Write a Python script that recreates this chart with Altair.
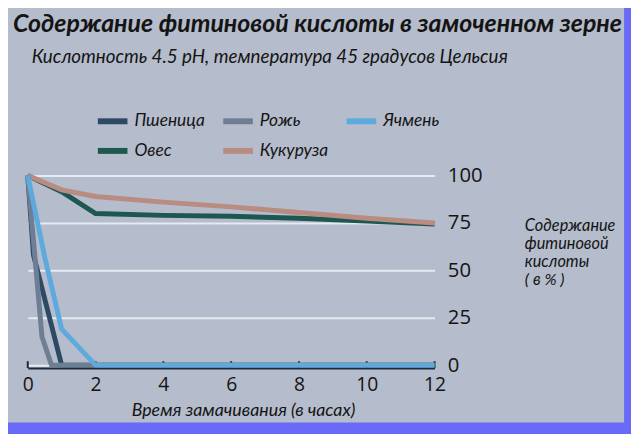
import altair as alt
import pandas as pd

# ---- texts ----
title_text = "Содержание фитиновой кислоты в замоченном зерне"
subtitle_text = "Кислотность 4.5 pH, температура 45 градусов Цельсия"
x_title = "Время замачивания (в часах)"
y_title = ["Содержание", "фитиновой", "кислоты", "( в % )"]

# ---- series ----
series_names = ["Пшеница", "Рожь", "Ячмень", "Овес", "Кукуруза"]
series_colors = ["#2d4a64", "#6e7e95", "#5eaadd", "#1e5650", "#b88c80"]

wheat_hours = [0, 0.17, 1, 2, 4, 6, 8, 10, 12]
wheat_vals = [100, 58, 0, 0, 0, 0, 0, 0, 0]

rye_hours = [0, 0.42, 0.7, 2, 4, 6, 8, 10, 12]
rye_vals = [100, 15, 0, 0, 0, 0, 0, 0, 0]

barley_hours = [0, 0.5, 1, 2, 4, 6, 8, 10, 12]
barley_vals = [100, 57, 19, 0, 0, 0, 0, 0, 0]

oats_hours = [0, 1, 2, 4, 6, 8, 10, 12]
oats_vals = [100, 91.5, 80, 79, 78.5, 77.5, 76, 74.5]

corn_hours = [0, 1, 2, 4, 6, 8, 10, 12]
corn_vals = [100, 92.5, 89, 86, 83.5, 80.5, 77.5, 75]

x_ticks = [0, 2, 4, 6, 8, 10, 12]
y_ticks = [0, 25, 50, 75, 100]

# drawing order (later drawn on top)
draw_order = ["Овес", "Кукуруза", "Пшеница", "Рожь", "Ячмень"]

series_data = {
    "Пшеница": (wheat_hours, wheat_vals),
    "Рожь": (rye_hours, rye_vals),
    "Ячмень": (barley_hours, barley_vals),
    "Овес": (oats_hours, oats_vals),
    "Кукуруза": (corn_hours, corn_vals),
}

rows = []
for i, name in enumerate(draw_order):
    hs, vs = series_data[name]
    for h, v in zip(hs, vs):
        rows.append({"hours": h, "value": v, "grain": name, "ord": i})
df = pd.DataFrame(rows)

# ---- style ----
PANEL = "#b5bccb"
BORDER = "#6a6af8"
AXIS = "#1c2a3c"
TEXT = "#141414"
GRID = "#e6eaf1"
HAND_FONT = "Lato"
NUM_FONT = "Open Sans"

W, H = 412, 192

x_scale = alt.Scale(domain=[0, 12], nice=False, zero=False)
y_scale = alt.Scale(domain=[0, 100], nice=False)

x_axis = alt.Axis(
    values=x_ticks, title=x_title, domain=True, domainColor=AXIS, domainWidth=2,
    ticks=False, grid=False, offset=3, labelFlush=False,
    labelFont=NUM_FONT, labelFontSize=19.5, labelColor=TEXT, labelPadding=8,
    titleFont=HAND_FONT, titleFontSize=18, titleFontStyle="italic", titleFontWeight="normal",
    titleColor=TEXT, titleX=218, titleY=48, titleAnchor="start", titleAlign="center",
    titleBaseline="alphabetic",
)

y_axis = alt.Axis(
    orient="right", values=y_ticks, title=y_title, domain=False, ticks=False,
    grid=True, gridColor=GRID, gridWidth=2, labelFlush=False,
    labelFont=NUM_FONT, labelFontSize=20.5, labelColor=TEXT, labelPadding=13,
    titleFont=HAND_FONT, titleFontSize=16.5, titleFontStyle="italic", titleFontWeight="normal",
    titleColor=TEXT, titleAngle=0, titleAlign="left", titleBaseline="top",
    titleX=91, titleY=43, titleLineHeight=18,
)

one = pd.DataFrame({"k": [0]})

right_strip = alt.Chart(one).mark_rect(color=BORDER).encode(
    x=alt.value(604), x2=alt.value(640), y=alt.value(-180), y2=alt.value(280)
)
bottom_strip = alt.Chart(one).mark_rect(color=BORDER).encode(
    x=alt.value(-30), x2=alt.value(640), y=alt.value(250), y2=alt.value(280)
)

ticks = alt.Chart(pd.DataFrame({"hours": x_ticks})).mark_rule(
    color=AXIS, strokeWidth=2
).encode(
    x=alt.X("hours:Q", scale=x_scale, axis=x_axis),
    y=alt.value(195), y2=alt.value(188),
)

title_mark = alt.Chart(one).mark_text(
    font=HAND_FONT, fontSize=25.2, fontStyle="italic", fontWeight="bold",
    color=TEXT, align="left", baseline="middle",
).encode(x=alt.value(-15), y=alt.value(-153), text=alt.value(title_text))

subtitle_mark = alt.Chart(one).mark_text(
    font=HAND_FONT, fontSize=19, fontStyle="italic",
    color=TEXT, align="left", baseline="middle",
).encode(x=alt.value(4), y=alt.value(-120), text=alt.value(subtitle_text))

lines = alt.Chart(df).mark_line(strokeWidth=5, strokeJoin="miter").encode(
    x=alt.X("hours:Q", scale=x_scale, axis=x_axis),
    y=alt.Y("value:Q", scale=y_scale, axis=y_axis),
    color=alt.Color(
        "grain:N",
        scale=alt.Scale(domain=series_names, range=series_colors),
        legend=alt.Legend(
            orient="none", legendX=68, legendY=-73, direction="horizontal",
            columns=3, title=None, symbolType="stroke", symbolStrokeWidth=6,
            symbolSize=900, labelFont=HAND_FONT, labelFontSize=17.5,
            labelFontStyle="italic", labelColor=TEXT, columnPadding=6,
            rowPadding=-2, labelOffset=4, gridAlign="each",
        ),
    ),
    order=alt.Order("ord:Q"),
)

chart = alt.layer(
    right_strip, bottom_strip, ticks, title_mark, subtitle_mark, lines
).properties(
    width=W, height=H,
    background=PANEL,
    padding={"left": 20, "top": 167, "right": 199, "bottom": 67},
    autosize=alt.AutoSizeParams(type="none"),
).configure_view(stroke=None)

chart.save("out.html", embed_options={"renderer": "svg", "actions": False})
